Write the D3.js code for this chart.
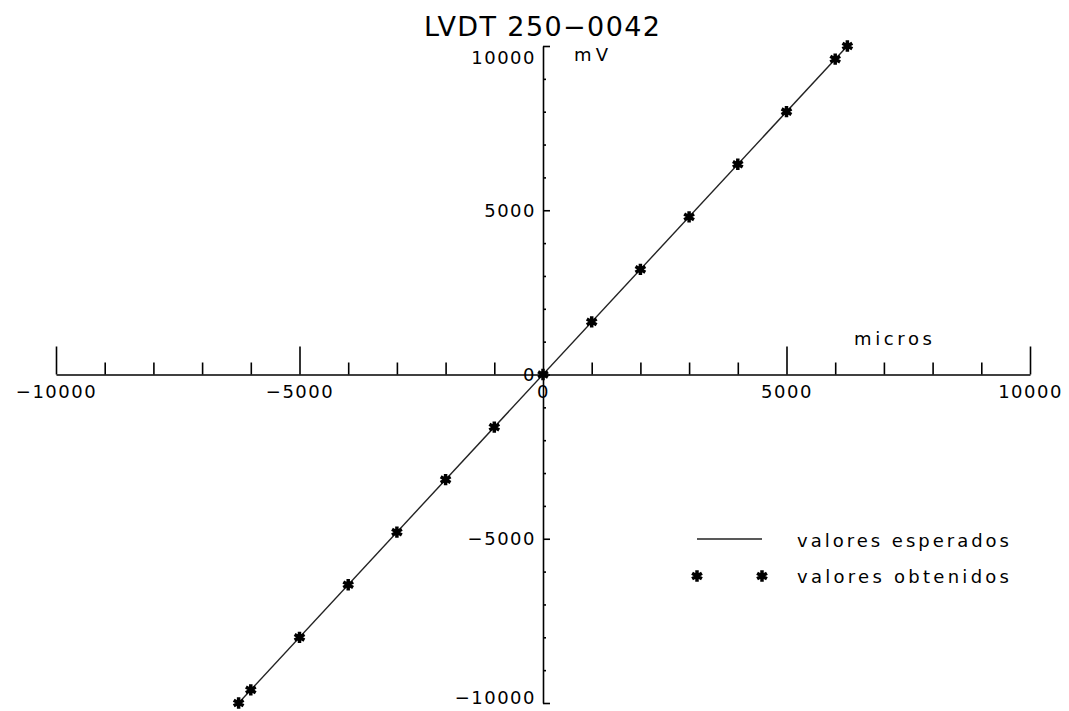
<!DOCTYPE html>
<html>
<head>
<meta charset="utf-8">
<script src="https://cdn.jsdelivr.net/npm/d3@7"></script>
<style>
  html, body { margin: 0; padding: 0; background: #fff; }
  svg text { font-family: "DejaVu Sans", "Liberation Sans", sans-serif; fill: #000; }
</style>
</head>
<body>
<svg id="chart" width="1069" height="711"></svg>
<script>
// LVDT 250-0042 calibration: displacement (micros) vs output (mV)
const title = "LVDT 250\u22120042";
const xLabel = "micros";
const yLabel = "mV";

// expected response (straight line through the origin)
const expectedX = [-6250, 6250];
const expectedY = [-10000, 10000];

// measured points
const obtainedX = [-6250, -6000, -5000, -4000, -3000, -2000, -1000, 0, 1000, 2000, 3000, 4000, 5000, 6000, 6250];
const obtainedY = [-10000, -9600, -8000, -6400, -4800, -3200, -1600, 0, 1600, 3200, 4800, 6400, 8000, 9600, 10000];

// axis ticks
const xMajorTicks = [-10000, -5000, 5000, 10000];
const xMinorTicks = [-9000, -8000, -7000, -6000, -4000, -3000, -2000, -1000, 1000, 2000, 3000, 4000, 6000, 7000, 8000, 9000];
const xTickLabels = [-10000, -5000, 0, 5000, 10000];
const yMajorTicks = [-10000, -5000, 0, 5000, 10000];
const yMinorTicks = [-9000, -8000, -7000, -6000, -4000, -3000, -2000, -1000, 1000, 2000, 3000, 4000, 6000, 7000, 8000, 9000];
const yTickLabels = [-10000, -5000, 0, 5000, 10000];

const legendLabels = ["valores esperados", "valores obtenidos"];

const svg = d3.select("#chart");
const x = d3.scaleLinear().domain([-10000, 10000]).range([56, 1030]);
const y = d3.scaleLinear().domain([-10000, 10000]).range([703, 46]);
const fmt = d => d < 0 ? "\u2212" + Math.abs(d) : String(d);

// ---- x axis (ticks point up, labels below) ----
const xAxisG = svg.append("g").attr("transform", `translate(0,${y(0)})`);
xAxisG.append("g")
  .call(d3.axisTop(x).tickValues(xMajorTicks).tickSize(28).tickSizeOuter(0).tickFormat(""))
  .call(g => g.select(".domain").remove());
xAxisG.append("g")
  .call(d3.axisTop(x).tickValues(xMinorTicks).tickSize(12).tickSizeOuter(0).tickFormat(""))
  .call(g => g.select(".domain").remove());
xAxisG.append("g")
  .call(d3.axisBottom(x).tickValues(xTickLabels).tickSize(0).tickPadding(11).tickFormat(fmt))
  .call(g => g.select(".domain").attr("stroke-width", 1.6))
  .call(g => g.selectAll("text").attr("font-size", 18).attr("letter-spacing", "1.5px"));
xAxisG.selectAll(".tick line").attr("stroke-width", 1.6);

// ---- y axis (ticks point right, labels left) ----
const yAxisG = svg.append("g").attr("transform", `translate(${x(0)},0)`);
yAxisG.append("g")
  .call(d3.axisRight(y).tickValues(yMajorTicks).tickSize(7).tickSizeOuter(0).tickFormat(""))
  .call(g => g.select(".domain").remove());
yAxisG.append("g")
  .call(d3.axisRight(y).tickValues(yMinorTicks).tickSize(3).tickSizeOuter(0).tickFormat(""))
  .call(g => g.select(".domain").remove());
yAxisG.append("g")
  .call(d3.axisLeft(y).tickValues(yTickLabels).tickSize(0).tickPadding(7).tickFormat(fmt))
  .call(g => g.select(".domain").attr("stroke-width", 1.6))
  .call(g => g.selectAll("text").attr("font-size", 18).attr("letter-spacing", "1.5px"))
  // keep the end labels inside the frame
  .call(g => g.selectAll(".tick").filter(d => d === 10000).select("text").attr("dy", "0.95em"))
  .call(g => g.selectAll(".tick").filter(d => d === -10000).select("text").attr("dy", "0.05em"));
yAxisG.selectAll(".tick line").attr("stroke-width", 1.6);

// axis titles
svg.append("text").attr("x", 854).attr("y", 345).attr("font-size", 18)
  .attr("textLength", 78).attr("lengthAdjust", "spacing").text(xLabel);
svg.append("text").attr("x", 574).attr("y", 61).attr("font-size", 18)
  .attr("textLength", 34).attr("lengthAdjust", "spacing").text(yLabel);

// chart title
svg.append("text").attr("x", 424).attr("y", 36).attr("font-size", 27)
  .attr("textLength", 236).attr("lengthAdjust", "spacing").text(title);

// ---- expected line ----
const lineData = expectedX.map((v, i) => [v, expectedY[i]]);
svg.append("path")
  .datum(lineData)
  .attr("fill", "none")
  .attr("stroke", "#222")
  .attr("stroke-width", 1.4)
  .attr("d", d3.line().x(d => x(d[0])).y(d => y(d[1])));

// ---- obtained points (asterisk markers) ----
const star = d3.symbol().type(d3.symbolAsterisk).size(90);
svg.append("g")
  .selectAll("path")
  .data(obtainedX.map((v, i) => [v, obtainedY[i]]))
  .join("path")
  .attr("transform", d => `translate(${x(d[0])},${y(d[1])})`)
  .attr("d", star)
  .attr("fill", "none")
  .attr("stroke", "#000")
  .attr("stroke-width", 3.5);

// ---- legend ----
const legend = svg.append("g");
legend.append("line")
  .attr("x1", 697).attr("x2", 762).attr("y1", 539).attr("y2", 539)
  .attr("stroke", "#222").attr("stroke-width", 1.4);
legend.selectAll("path.leg")
  .data([697, 762])
  .join("path")
  .attr("class", "leg")
  .attr("transform", d => `translate(${d},576)`)
  .attr("d", star)
  .attr("fill", "none")
  .attr("stroke", "#000")
  .attr("stroke-width", 3.5);
legend.selectAll("text")
  .data(legendLabels)
  .join("text")
  .attr("x", 797)
  .attr("y", (d, i) => 547 + i * 36)
  .attr("font-size", 18)
  .attr("textLength", 212)
  .attr("lengthAdjust", "spacing")
  .text(d => d);
</script>
</body>
</html>
